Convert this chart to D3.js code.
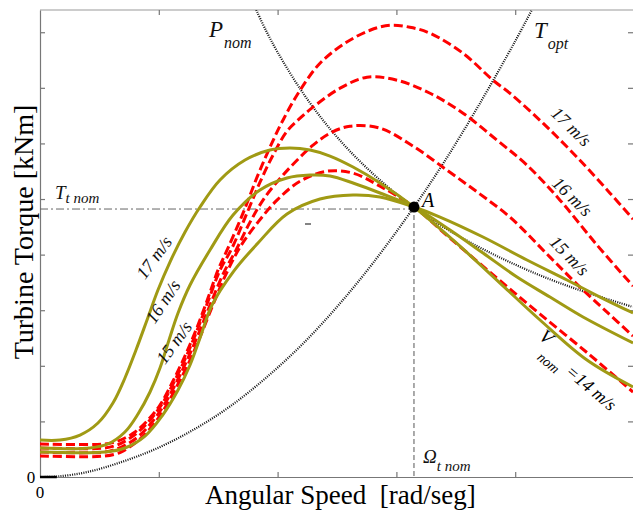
<!DOCTYPE html>
<html><head><meta charset="utf-8">
<script src="https://cdn.jsdelivr.net/npm/d3@7"></script>
<style>body{margin:0;background:#fff}svg{display:block}text{font-family:"Liberation Serif","DejaVu Serif",serif}</style>
</head><body><svg id="c" width="633" height="511"></svg>
<script>
// ---- data (x: angular speed, tick units; y: turbine torque, tick units) ----
const xTicks = [1, 2, 3, 4];
const yTicks = [1, 2, 3, 4, 5, 6, 7, 8];
const pointA = [3.148, 4.856];

const red17X = [0,0.547,0.631,0.715,0.800,0.909,1.010,1.111,1.212,1.313,1.414,1.498,1.582,1.709,1.827,1.936,2.045,2.189,2.357,2.567,2.778,2.946,3.114,3.283,3.561,3.813,3.956,4.234,4.520,4.798,4.992];
const red17Y = [0.593,0.593,0.629,0.701,0.809,1.025,1.294,1.690,2.139,2.643,3.218,3.721,4.117,4.746,5.393,5.933,6.418,6.957,7.443,7.802,8.036,8.126,8.090,7.982,7.622,7.137,6.903,6.364,5.753,5.106,4.638];
const red16X = [0,0.547,0.648,0.732,0.816,0.926,1.027,1.128,1.229,1.330,1.431,1.515,1.616,1.742,1.852,1.961,2.079,2.189,2.298,2.525,2.753,3.005,3.283,3.561,3.847,4.099,4.377,4.689,4.992];
const red16Y = [0.521,0.521,0.575,0.665,0.791,1.025,1.312,1.708,2.157,2.679,3.254,3.721,4.117,4.746,5.303,5.789,6.220,6.454,6.652,6.993,7.191,7.137,6.903,6.544,6.058,5.609,4.980,4.171,3.434];
const red15X = [0,0.547,0.665,0.749,0.833,0.943,1.044,1.145,1.246,1.347,1.448,1.549,1.650,1.768,1.894,2.045,2.189,2.298,2.441,2.609,2.862,3.140,3.426,3.704,3.956,4.293,4.545,4.773,4.992];
const red15Y = [0.449,0.449,0.521,0.611,0.737,0.989,1.294,1.690,2.139,2.643,3.182,3.685,4.081,4.584,5.034,5.429,5.753,5.969,6.184,6.310,6.274,5.951,5.519,5.088,4.674,3.955,3.416,2.966,2.535];
const red14X = [0,0.547,0.682,0.766,0.850,0.960,1.061,1.162,1.263,1.364,1.465,1.566,1.684,1.835,1.995,2.189,2.416,2.635,2.862,3.148,3.451,3.847,4.209,4.630,4.992];
const red14Y = [0.378,0.378,0.449,0.557,0.701,0.953,1.276,1.672,2.103,2.607,3.146,3.649,4.135,4.584,4.980,5.321,5.501,5.465,5.231,4.856,4.297,3.578,2.930,2.193,1.528];

const olive17X = [0,0.168,0.337,0.488,0.614,0.715,0.808,0.901,0.993,1.094,1.221,1.347,1.515,1.726,1.936,2.104,2.273,2.441,2.635,2.862,3.148,3.476,3.872,4.209,4.604,4.992];
const olive17Y = [0.665,0.665,0.755,0.971,1.331,1.781,2.284,2.824,3.363,3.867,4.406,4.856,5.342,5.701,5.881,5.917,5.881,5.773,5.576,5.288,4.856,4.263,3.489,2.824,2.104,1.619];
const olive16X = [0,0.421,0.572,0.715,0.825,0.926,1.010,1.086,1.162,1.263,1.431,1.625,1.852,2.079,2.273,2.441,2.635,2.862,3.148,3.451,3.729,4.015,4.293,4.571,4.992];
const olive16Y = [0.522,0.522,0.594,0.809,1.133,1.529,1.960,2.464,2.950,3.453,4.083,4.712,5.162,5.378,5.432,5.414,5.288,5.108,4.856,4.442,4.029,3.597,3.237,2.878,2.410];
const olive15X = [0,0.547,0.715,0.884,1.027,1.162,1.263,1.347,1.448,1.625,1.835,2.079,2.357,2.635,2.862,3.148,3.367,3.729,4.099,4.436,4.714,4.992];
const olive15Y = [0.450,0.450,0.522,0.737,1.097,1.565,2.014,2.500,3.094,3.687,4.209,4.730,5.000,5.072,5.036,4.856,4.676,4.317,3.903,3.543,3.237,2.950];

const pnomX = [1.82,1.9,2.0,2.2,2.4,2.6,2.8,3.0,3.148,3.4,3.7,4.0,4.3,4.6,4.99];
const pnomY = [8.40,8.04,7.64,6.95,6.37,5.88,5.46,5.09,4.856,4.49,4.13,3.82,3.55,3.32,3.06];
const toptX = [0,0.15,0.4,0.7,1.0,1.3,1.6,1.9,2.2,2.5,2.8,3.148,3.4,3.7,4.0,4.14];
const toptY = [0,0.01,0.09,0.28,0.53,0.86,1.27,1.78,2.37,3.06,3.84,4.856,5.66,6.71,7.84,8.40];

// ---- drawing ----
const svg = d3.select("#c");
const x = d3.scaleLinear().domain([0, 5]).range([40, 634]);
const y = d3.scaleLinear().domain([0, 8.4]).range([477, 10]);
const zip = (xs, ys) => xs.map((v, i) => [v, ys[i]]);
const line = d3.line().x(d => x(d[0])).y(d => y(d[1])).curve(d3.curveCatmullRom.alpha(0.5));

svg.append("defs").append("clipPath").attr("id", "clip")
  .append("rect").attr("x", 40).attr("y", 10).attr("width", 593).attr("height", 467);

// frame / axes
const frame = "#777";
svg.append("line").attr("x1", 40).attr("x2", 633).attr("y1", 10).attr("y2", 10).attr("stroke", "#999").attr("stroke-width", 1.2);
svg.append("g").attr("transform", "translate(0,477)")
  .call(d3.axisBottom(x).tickValues(xTicks).tickSizeInner(-5).tickSizeOuter(0).tickFormat(""))
  .call(g => g.selectAll("path,line").attr("stroke", frame).attr("stroke-width", 1.2));
svg.append("g").attr("transform", "translate(0,10)")
  .call(d3.axisTop(x).tickValues(xTicks).tickSizeInner(-5).tickSizeOuter(0).tickFormat(""))
  .call(g => g.select("path").remove())
  .call(g => g.selectAll("line").attr("stroke", frame).attr("stroke-width", 1.2));
svg.append("g").attr("transform", "translate(40,0)")
  .call(d3.axisLeft(y).tickValues(yTicks).tickSizeInner(-5).tickSizeOuter(0).tickFormat(""))
  .call(g => g.selectAll("path,line").attr("stroke", frame).attr("stroke-width", 1.2));
svg.append("g").attr("transform", "translate(633,0)")
  .call(d3.axisRight(y).tickValues(yTicks).tickSizeInner(-5).tickSizeOuter(0).tickFormat(""))
  .call(g => g.select("path").remove())
  .call(g => g.selectAll("line").attr("stroke", frame).attr("stroke-width", 1.2));

const plot = svg.append("g").attr("clip-path", "url(#clip)");

// reference lines
plot.append("line").attr("x1", x(0)).attr("x2", x(pointA[0])).attr("y1", y(pointA[1]) + 2).attr("y2", y(pointA[1]) + 2)
  .attr("stroke", "#666").attr("stroke-width", 1).attr("stroke-dasharray", "8,3,2,3");
plot.append("line").attr("x1", x(pointA[0])).attr("x2", x(pointA[0])).attr("y1", y(pointA[1])).attr("y2", y(0))
  .attr("stroke", "#555").attr("stroke-width", 1).attr("stroke-dasharray", "5,3");

// dotted black curves
[[pnomX, pnomY], [toptX, toptY]].forEach(([xs, ys]) => {
  plot.append("path").attr("d", line(zip(xs, ys)))
    .attr("fill", "none").attr("stroke", "#111").attr("stroke-width", 2.2).attr("stroke-dasharray", "1,1.3");
});
svg.append("line").attr("x1", x(0)).attr("x2", x(toptX[1]) - 1).attr("y1", 477).attr("y2", 477)
  .attr("stroke", "#000").attr("stroke-width", 2.5);

// red dashed curves
const red = "#ff0000";
[[red14X, red14Y], [red15X, red15Y], [red16X, red16Y], [red17X, red17Y]].forEach(([xs, ys]) => {
  plot.append("path").attr("d", line(zip(xs, ys)))
    .attr("fill", "none").attr("stroke", red).attr("stroke-width", 3).attr("stroke-dasharray", "9,4");
});
// olive solid curves
const olive = "#a09a14";
[[olive15X, olive15Y], [olive16X, olive16Y], [olive17X, olive17Y]].forEach(([xs, ys]) => {
  plot.append("path").attr("d", line(zip(xs, ys)))
    .attr("fill", "none").attr("stroke", olive).attr("stroke-width", 3);
});

// point A
svg.append("circle").attr("cx", x(pointA[0])).attr("cy", y(pointA[1])).attr("r", 5.5).attr("fill", "#000");
svg.append("line").attr("x1", 305).attr("x2", 311).attr("y1", 224).attr("y2", 224).attr("stroke", "#333").attr("stroke-width", 1.2);

// ---- texts ----
function sub(tx, ty, main, s, size, subSize, dx, dy) {
  const t = svg.append("text").attr("x", tx).attr("y", ty).attr("font-style", "italic").attr("font-size", size).attr("fill", "#111");
  t.append("tspan").text(main);
  t.append("tspan").attr("dx", dx).attr("dy", dy).attr("font-size", subSize).text(s);
}
sub(209, 37, "P", "nom", 23, 16, 1, 11);
sub(534, 38, "T", "opt", 23, 16, 1, 11);
sub(55, 199, "T", "t nom", 19, 15, 0, 4);
sub(423, 463, "Ω", "t nom", 19, 15, 0, 8);
svg.append("text").attr("x", 422).attr("y", 207).attr("font-style", "italic").attr("font-size", 20).text("A");

function rot(cx, cy, ang, str) {
  svg.append("text").attr("transform", `translate(${cx},${cy}) rotate(${ang})`)
    .attr("text-anchor", "middle").attr("font-style", "italic").attr("font-size", 18).attr("fill", "#111").text(str);
}
rot(567, 131, 44, "17 m/s");
rot(568, 201, 44, "16 m/s");
rot(565, 260, 46, "15 m/s");
rot(159, 261, -54, "17 m/s");
rot(168, 305, -56, "16 m/s");
rot(179, 346, -54, "15 m/s");

const v = svg.append("g").attr("transform", "translate(538,338) rotate(40)");
v.append("text").attr("font-style", "italic").attr("font-size", 19).text("V");
v.append("text").attr("x", 12).attr("y", 17).attr("font-style", "italic").attr("font-size", 14).text("nom");
v.append("text").attr("x", 43).attr("y", 10).attr("font-style", "italic").attr("font-size", 18).text("=14 m/s");

svg.append("text").attr("x", 31).attr("y", 483).attr("text-anchor", "middle").attr("font-size", 17).text("0");
svg.append("text").attr("x", 40).attr("y", 498).attr("text-anchor", "middle").attr("font-size", 17).text("0");

svg.append("text").attr("x", 205).attr("y", 504).attr("font-size", 27).style("white-space", "pre").text("Angular Speed  [rad/seg]");
svg.append("text").attr("transform", "translate(33,232) rotate(-90)").attr("text-anchor", "middle").attr("font-size", 28).text("Turbine Torque [kNm]");
</script></body></html>
